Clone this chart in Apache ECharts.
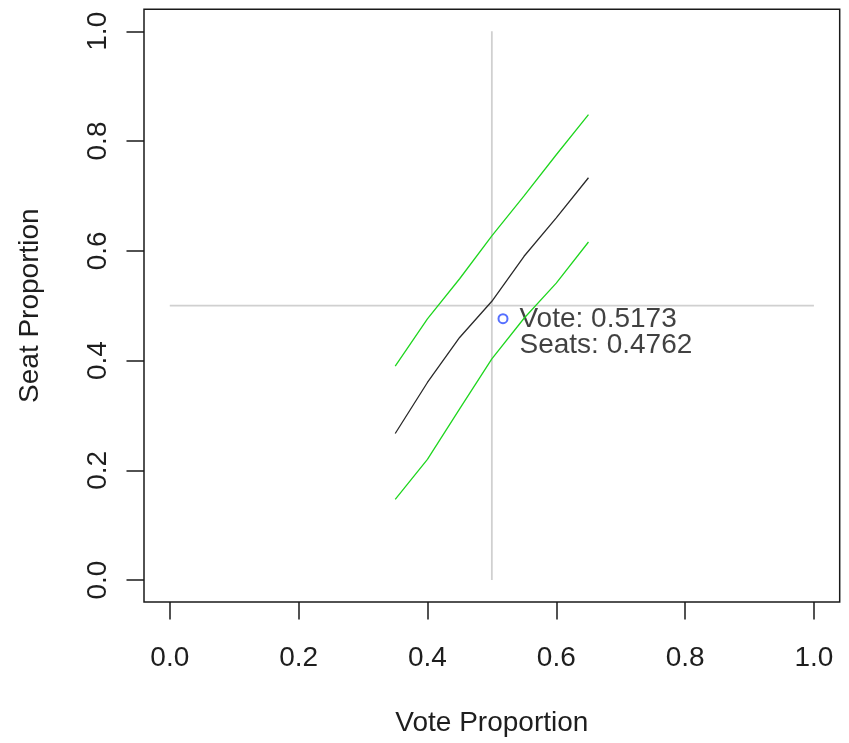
<!DOCTYPE html>
<html><head><meta charset="utf-8">
<script src="https://cdn.jsdelivr.net/npm/echarts@6/dist/echarts.min.js"></script>
<style>html,body{margin:0;padding:0;background:#fff}#c{width:849px;height:743px}</style>
</head><body><div id="c"></div>
<script>
// ---- data ----
const votes = [0.35, 0.40, 0.45, 0.50, 0.55, 0.60, 0.65];
const seatsMid = [0.267, 0.360, 0.442, 0.508, 0.590, 0.660, 0.733];
const seatsUpper = [0.390, 0.476, 0.549, 0.627, 0.700, 0.775, 0.848];
const seatsLower = [0.147, 0.220, 0.312, 0.403, 0.477, 0.541, 0.616];
const observedVote = 0.5173;
const observedSeats = 0.4762;
const refLineV = [[0.5, 0], [0.5, 1]];
const refLineH = [[0, 0.5], [1, 0.5]];
const tickValues = [0, 0.2, 0.4, 0.6, 0.8, 1.0];

const FONT = '"Liberation Sans", Arial, sans-serif';
const TXT = '#1e1e1e';
const FS = 28;
const zip = (xs, ys) => xs.map((x, i) => [x, ys[i]]);

const axisCommon = {
  type: 'value', min: -0.04, max: 1.04,
  axisLine: {show: false, onZero: false},
  axisTick: {show: true, customValues: tickValues, length: 17.5, inside: false, lineStyle: {color: '#1a1a1a', width: 1.5}},
  splitLine: {show: false},
  nameLocation: 'middle',
  nameTextStyle: {fontSize: FS, fontFamily: FONT, color: TXT}
};

const chart = echarts.init(document.getElementById('c'), null, {renderer: 'canvas'});
const option = {
  backgroundColor: '#ffffff',
  animation: false,
  grid: {left: 144, right: 9.3, top: 9.3, bottom: 141, show: true, borderColor: '#1a1a1a', borderWidth: 1.5, backgroundColor: 'transparent'},
  xAxis: Object.assign({}, axisCommon, {
    axisLabel: {customValues: tickValues, margin: 42, fontSize: FS, fontFamily: FONT, color: TXT, formatter: v => v.toFixed(1)},
    name: 'Vote Proportion', nameGap: 107
  }),
  yAxis: Object.assign({}, axisCommon, {
    axisLabel: {customValues: tickValues, margin: 32, rotate: 90, fontSize: FS, fontFamily: FONT, color: TXT, formatter: v => v.toFixed(1)},
    name: 'Seat Proportion', nameGap: 100, nameRotate: 90
  }),
  series: [
    {type: 'line', data: refLineV, symbol: 'none', lineStyle: {color: '#d0d0d0', width: 1.8}, silent: true},
    {type: 'line', data: refLineH, symbol: 'none', lineStyle: {color: '#d0d0d0', width: 1.8}, silent: true},
    {type: 'line', data: zip(votes, seatsUpper), symbol: 'none', lineStyle: {color: '#1fd61f', width: 1.3}},
    {type: 'line', data: zip(votes, seatsMid), symbol: 'none', lineStyle: {color: '#2a2a2a', width: 1.3}},
    {type: 'line', data: zip(votes, seatsLower), symbol: 'none', lineStyle: {color: '#1fd61f', width: 1.3}},
    {type: 'scatter', data: [[observedVote, observedSeats]],
     symbol: 'emptyCircle', symbolSize: 9,
     itemStyle: {color: '#2b4bff', borderColor: '#2b4bff', borderWidth: 1.6},
     label: {show: true, position: 'right', distance: 13, offset: [-2, 14],
       formatter: () => 'Vote: ' + observedVote.toFixed(4) + '\nSeats: ' + observedSeats.toFixed(4),
       fontSize: FS, lineHeight: 26, fontFamily: FONT, color: '#111', align: 'left'}}
  ]
};
chart.setOption(option);
</script></body></html>
